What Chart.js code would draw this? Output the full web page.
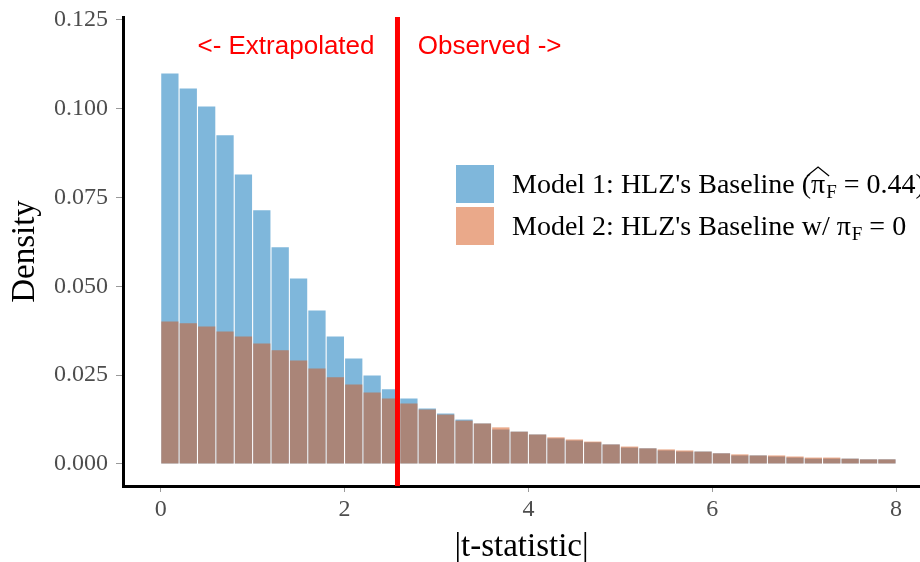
<!DOCTYPE html>
<html>
<head>
<meta charset="utf-8">
<script src="https://cdn.jsdelivr.net/npm/chart.js@4/dist/chart.umd.min.js"></script>
<style>
  html, body { margin: 0; padding: 0; background: #fff; }
  #wrap { width: 920px; height: 562px; }
</style>
</head>
<body>
<div id="wrap"><canvas id="histChart" width="920" height="562"></canvas></div>
<script>
// |t| histogram, bins of width 0.2 (midpoints)
const binMids = [0.1, 0.3, 0.5, 0.7, 0.9, 1.1, 1.3, 1.5, 1.7, 1.9,
                 2.1, 2.3, 2.5, 2.7, 2.9, 3.1, 3.3, 3.5, 3.7, 3.9,
                 4.1, 4.3, 4.5, 4.7, 4.9, 5.1, 5.3, 5.5, 5.7, 5.9,
                 6.1, 6.3, 6.5, 6.7, 6.9, 7.1, 7.3, 7.5, 7.7, 7.9];

const model1Density = [0.1099, 0.1057, 0.1006, 0.0925, 0.0815, 0.0714, 0.0610, 0.0522, 0.0432, 0.0359,
                       0.0297, 0.0249, 0.0210, 0.0184, 0.0156, 0.0142, 0.0125, 0.0114, 0.0097, 0.0091,
                       0.0083, 0.0072, 0.0066, 0.0061, 0.0055, 0.0046, 0.0044, 0.0038, 0.0035, 0.0035,
                       0.0030, 0.0024, 0.0024, 0.0021, 0.0018, 0.0015, 0.0015, 0.0015, 0.0013, 0.0013];

const model2Density = [0.0401, 0.0396, 0.0387, 0.0373, 0.0359, 0.0339, 0.0320, 0.0291, 0.0269, 0.0244,
                       0.0224, 0.0201, 0.0184, 0.0170, 0.0153, 0.0139, 0.0122, 0.0114, 0.0103, 0.0091,
                       0.0083, 0.0075, 0.0069, 0.0063, 0.0055, 0.0049, 0.0044, 0.0041, 0.0038, 0.0035,
                       0.0030, 0.0027, 0.0024, 0.0024, 0.0021, 0.0018, 0.0018, 0.0015, 0.0013, 0.0013];

const xTickValues = [0, 2, 4, 6, 8];
const yTickValues = [0, 0.025, 0.05, 0.075, 0.1, 0.125];
const criticalT = 2.576;

const blueFill = 'rgba(0, 112, 184, 0.5)';
const orangeFill = 'rgba(214, 84, 22, 0.5)';
const serif = "'Liberation Serif', 'DejaVu Serif', serif";

// red cut-off line + the two text labels next to it
const cutoffPlugin = {
  id: 'cutoff',
  afterDatasetsDraw(chart) {
    const { ctx, chartArea, scales } = chart;
    const px = scales.x.getPixelForValue(criticalT);
    ctx.save();
    ctx.strokeStyle = '#ff0000';
    ctx.lineWidth = 5;
    ctx.beginPath();
    ctx.moveTo(px, chartArea.top);
    ctx.lineTo(px, chartArea.bottom);
    ctx.stroke();

    ctx.fillStyle = '#ff0000';
    ctx.font = "26px 'Liberation Sans', Arial, sans-serif";
    ctx.textBaseline = 'middle';
    const ty = scales.y.getPixelForValue(0.1175);
    ctx.textAlign = 'right';
    ctx.fillText('<- Extrapolated', scales.x.getPixelForValue(criticalT - 0.25), ty);
    ctx.textAlign = 'left';
    ctx.fillText('Observed ->', scales.x.getPixelForValue(criticalT + 0.22), ty);
    ctx.restore();
  }
};

// legend with the pi-hat subscript F bits
const legendPlugin = {
  id: 'mathLegend',
  afterDraw(chart) {
    const ctx = chart.ctx;
    const boxX = 456, boxSize = 38;
    const rows = [
      { y: 165, color: blueFill, pre: "Model 1: HLZ's Baseline (", hat: true, post: ' = 0.44)' },
      { y: 207, color: orangeFill, pre: "Model 2: HLZ's Baseline w/ ", hat: false, post: ' = 0' }
    ];
    ctx.save();
    rows.forEach(r => {
      ctx.fillStyle = '#fff';
      ctx.fillRect(boxX, r.y, boxSize, boxSize);
      ctx.fillStyle = r.color;
      ctx.fillRect(boxX, r.y, boxSize, boxSize);

      const base = r.y + boxSize / 2 + 9;
      let x = 512;
      ctx.fillStyle = '#000';
      ctx.textAlign = 'left';
      ctx.textBaseline = 'alphabetic';
      ctx.font = '28px ' + serif;
      ctx.fillText(r.pre, x, base);
      x += ctx.measureText(r.pre).width;
      const piW = ctx.measureText('\u03c0').width;
      ctx.fillText('\u03c0', x, base);
      if (r.hat) {
        ctx.strokeStyle = '#000';
        ctx.lineWidth = 1.3;
        ctx.beginPath();
        ctx.moveTo(x - 4, base - 17);
        ctx.lineTo(x + piW / 2, base - 26);
        ctx.lineTo(x + piW + 4, base - 17);
        ctx.stroke();
      }
      x += piW + 1;
      ctx.font = '19px ' + serif;
      ctx.fillText('F', x, base + 5);
      x += ctx.measureText('F').width;
      ctx.font = '28px ' + serif;
      ctx.fillText(r.post, x, base);
    });
    ctx.restore();
  }
};

const ctxH = document.getElementById('histChart').getContext('2d');
const histChart = new Chart(ctxH, {
  type: 'bar',
  data: {
    datasets: [{
      label: "Model 1: HLZ's Baseline",
      data: binMids.map((m, i) => ({ x: m, y: model1Density[i] })),
      backgroundColor: blueFill,
      order: 1
    }, {
      label: "Model 2: HLZ's Baseline w/ pi_F = 0",
      data: binMids.map((m, i) => ({ x: m, y: model2Density[i] })),
      backgroundColor: orangeFill,
      order: 0
    }]
  },
  options: {
    responsive: false,
    animation: false,
    layout: { padding: { top: 17, right: 0, bottom: 0, left: 0 } },
    datasets: { bar: { grouped: false, barPercentage: 0.94, categoryPercentage: 1 } },
    plugins: { legend: { display: false }, tooltip: { enabled: false } },
    scales: {
      x: {
        type: 'linear',
        min: -0.41,
        max: 8.26,
        offset: false,
        afterFit(s) { s.height = 76; },
        afterBuildTicks(s) { s.ticks = xTickValues.map(v => ({ value: v })); },
        grid: { display: true, offset: false, drawOnChartArea: false, drawTicks: true, tickLength: 6, color: '#9a9a9a' },
        border: { display: true, color: '#000', width: 3 },
        ticks: { color: '#4d4d4d', font: { family: serif, size: 24 }, padding: 3, maxRotation: 0, autoSkip: false },
        title: { display: true, text: '|t-statistic|', color: '#000', font: { family: serif, size: 33, lineHeight: 1 }, padding: { top: 0, bottom: -2 } }
      },
      y: {
        min: -0.0062,
        max: 0.1258,
        afterFit(s) { s.width = 123; },
        afterBuildTicks(s) { s.ticks = yTickValues.map(v => ({ value: v })); },
        grid: { display: true, drawOnChartArea: false, drawTicks: true, tickLength: 7, color: '#9a9a9a' },
        border: { display: true, color: '#000', width: 3 },
        ticks: { color: '#4d4d4d', font: { family: serif, size: 24, lineHeight: 0.6 }, padding: 8, callback: v => v.toFixed(3) },
        title: { display: true, text: 'Density', color: '#000', font: { family: serif, size: 33, lineHeight: 1 }, padding: { top: 9, bottom: 0 } }
      }
    }
  },
  plugins: [cutoffPlugin, legendPlugin]
});
</script>
</body>
</html>
